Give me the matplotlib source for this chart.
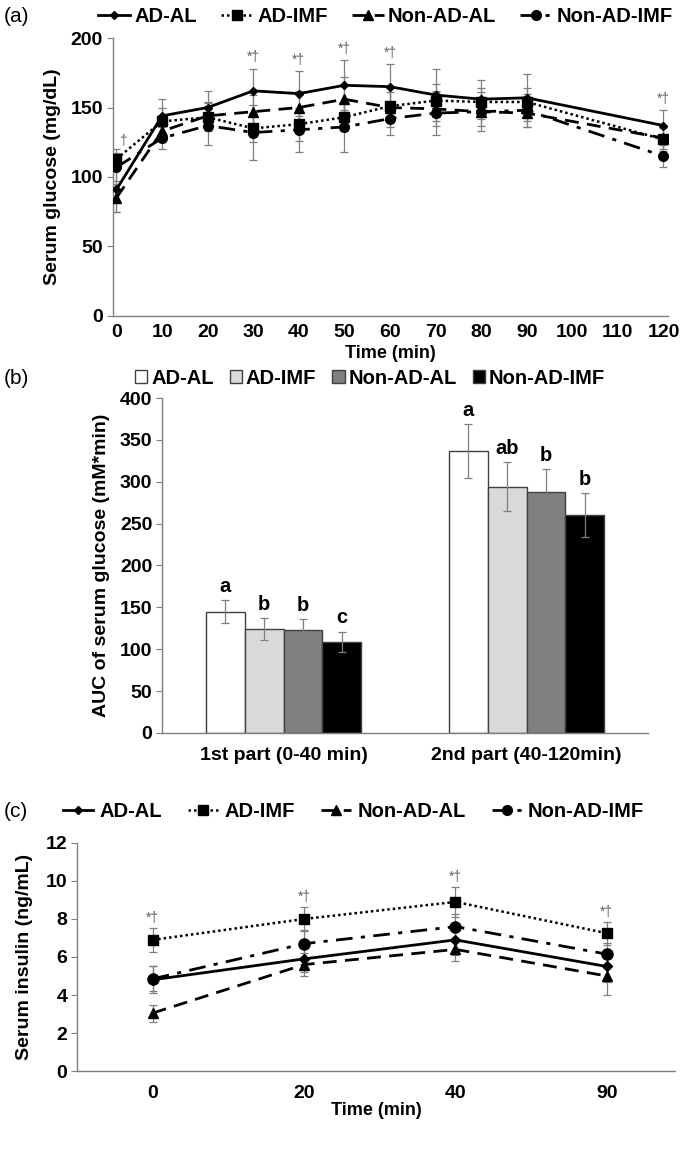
import matplotlib
matplotlib.use("Agg")
import matplotlib.pyplot as plt
from matplotlib.patches import Patch
from matplotlib.lines import Line2D
import matplotlib.font_manager as fm

names = {f.name for f in fm.fontManager.ttflist}
FAM = ['Liberation Sans Narrow'] if 'Liberation Sans Narrow' in names else ['Liberation Sans']
plt.rcParams['font.family'] = FAM + ['DejaVu Sans']
plt.rcParams['font.weight'] = 'bold'

groups = ["AD-AL", "AD-IMF", "Non-AD-AL", "Non-AD-IMF"]

# Panel (a) glucose
time_a = [0, 10, 20, 30, 40, 50, 60, 70, 80, 90, 120]
glu_mean = {
    "AD-AL":      [91, 144, 150, 162, 160, 166, 165, 159, 156, 157, 137],
    "AD-IMF":     [113, 140, 143, 135, 138, 143, 151, 155, 154, 154, 127],
    "Non-AD-AL":  [85, 133, 144, 147, 150, 156, 150, 149, 147, 146, 128],
    "Non-AD-IMF": [107, 128, 137, 132, 134, 136, 142, 146, 147, 148, 115],
}
glu_sd = {
    "AD-AL":      [16, 12, 12, 16, 16, 18, 16, 19, 14, 17, 11],
    "AD-IMF":     [7, 10, 10, 10, 12, 10, 10, 12, 10, 10, 8],
    "Non-AD-AL":  [10, 8, 10, 12, 12, 16, 14, 12, 10, 10, 8],
    "Non-AD-IMF": [10, 8, 14, 20, 16, 18, 12, 16, 14, 12, 8],
}
sig_a_times = [30, 40, 50, 60, 120]
sig_a_labels = ["*†", "*†", "*†", "*†", "*†"]
sig_a0_label = "†"

# Panel (b) AUC
auc_cats = ["1st part (0-40 min)", "2nd part (40-120min)"]
auc_mean = {
    "AD-AL": [145, 337], "AD-IMF": [124, 294],
    "Non-AD-AL": [123, 288], "Non-AD-IMF": [109, 260],
}
auc_sd = {
    "AD-AL": [14, 32], "AD-IMF": [13, 29],
    "Non-AD-AL": [13, 27], "Non-AD-IMF": [12, 26],
}
auc_letters = {
    "AD-AL": ["a", "a"], "AD-IMF": ["b", "ab"],
    "Non-AD-AL": ["b", "b"], "Non-AD-IMF": ["c", "b"],
}

# Panel (c) insulin
time_c = ["0", "20", "40", "90"]
ins_mean = {
    "AD-AL":      [4.8, 5.9, 6.9, 5.5],
    "AD-IMF":     [6.9, 8.0, 8.9, 7.25],
    "Non-AD-AL":  [3.05, 5.6, 6.4, 5.0],
    "Non-AD-IMF": [4.85, 6.7, 7.6, 6.15],
}
ins_sd = {
    "AD-AL":      [0.7, 0.7, 0.8, 0.8],
    "AD-IMF":     [0.65, 0.65, 0.8, 0.6],
    "Non-AD-AL":  [0.45, 0.6, 0.6, 1.0],
    "Non-AD-IMF": [0.65, 0.7, 0.65, 0.6],
}

styles = {
    "AD-AL": dict(ls='-', marker='D', ms=4.5, lw=2.0),
    "AD-IMF": dict(ls=(0, (1, 1.2)), marker='s', ms=6.5, lw=1.8),
    "Non-AD-AL": dict(ls=(0, (5, 3)), marker='^', ms=6.5, lw=2.0),
    "Non-AD-IMF": dict(ls=(0, (6, 3, 1.5, 3)), marker='o', ms=7, lw=2.0),
}
bar_colors = {"AD-AL": "white", "AD-IMF": "#d9d9d9", "Non-AD-AL": "#808080", "Non-AD-IMF": "black"}
GRAY = "#7f7f7f"
FS = 14
LFS = 14.5
YLFS = 14
SIGC = '#606060'

fig = plt.figure(figsize=(6.88, 11.53), dpi=100)


def style_axes(ax):
    for s in ['top', 'right']:
        ax.spines[s].set_visible(False)
    for s in ['left', 'bottom']:
        ax.spines[s].set_color(GRAY)
        ax.spines[s].set_linewidth(1.0)
    ax.tick_params(axis='y', length=4, color=GRAY, labelsize=FS, pad=3)
    ax.tick_params(axis='x', length=0, labelsize=FS, pad=6)
    for lab in ax.get_xticklabels() + ax.get_yticklabels():
        lab.set_fontweight('bold')


# ---- (a)
axa = fig.add_axes([0.164, 0.726, 0.807, 0.241])
for g in groups:
    st = styles[g]
    axa.errorbar(time_a, glu_mean[g], yerr=glu_sd[g], fmt='none', ecolor=GRAY, elinewidth=0.9, capsize=3, capthick=0.9, zorder=1)
    axa.plot(time_a, glu_mean[g], color='black', linestyle=st['ls'], lw=st['lw'], marker=st['marker'], ms=st['ms'], zorder=3)
axa.set_xlim(-0.8, 121)
axa.set_ylim(0, 200)
axa.set_xticks(list(range(0, 121, 10)))
axa.set_yticks([0, 50, 100, 150, 200])
style_axes(axa)
axa.set_xlabel("Time (min)", fontsize=13, fontweight='bold', labelpad=3)
axa.set_ylabel("Serum glucose (mg/dL)", fontsize=YLFS, fontweight='bold', labelpad=7)
for t, lab in zip(sig_a_times, sig_a_labels):
    i = time_a.index(t)
    top = max(glu_mean[g][i] + glu_sd[g][i] for g in groups)
    axa.text(t, top + 3, lab, ha='center', va='bottom', fontsize=10, color=SIGC, fontweight='normal')
top0 = max(glu_mean[g][0] + glu_sd[g][0] for g in groups)
axa.text(0.5, top0 + 1, sig_a0_label, ha='left', va='bottom', fontsize=10, color=SIGC, fontweight='normal')

handles = [Line2D([], [], color='black', linestyle=styles[g]['ls'], lw=styles[g]['lw'], marker=styles[g]['marker'], ms=styles[g]['ms']) for g in groups]
fig.legend(handles, groups, loc='center', bbox_to_anchor=(0.56, 0.986), ncol=4, frameon=False,
           handlelength=1.6, columnspacing=1.2, handletextpad=0.2, prop={'weight': 'bold', 'size': LFS})
fig.text(0.005, 0.986, "(a)", fontsize=15, fontweight='normal', va='center')

# ---- (b)
axb = fig.add_axes([0.2355, 0.3643, 0.7065, 0.2905])
w = 0.16
offs = [-1.5 * w, -0.5 * w, 0.5 * w, 1.5 * w]
for k, g in enumerate(groups):
    xs = [i + offs[k] for i in range(len(auc_cats))]
    axb.bar(xs, auc_mean[g], width=w, color=bar_colors[g], edgecolor='#404040', linewidth=1.0, zorder=2)
    axb.errorbar(xs, auc_mean[g], yerr=auc_sd[g], fmt='none', ecolor=GRAY, elinewidth=0.9, capsize=3, capthick=0.9, zorder=3)
    for x, m, s, l in zip(xs, auc_mean[g], auc_sd[g], auc_letters[g]):
        axb.text(x, m + s + 5, l, ha='center', va='bottom', fontsize=LFS, fontweight='bold')
axb.set_xlim(-0.5, 1.5)
axb.set_ylim(0, 400)
axb.set_xticks(range(len(auc_cats)))
axb.set_xticklabels(auc_cats)
axb.set_yticks(range(0, 401, 50))
style_axes(axb)
axb.tick_params(axis='x', pad=10)
axb.set_ylabel("AUC of serum glucose (mM*min)", fontsize=YLFS, fontweight='bold', labelpad=7)
phandles = [Patch(facecolor=bar_colors[g], edgecolor='#404040', linewidth=1.0) for g in groups]
fig.legend(phandles, groups, loc='center', bbox_to_anchor=(0.538, 0.672), ncol=4, frameon=False,
           handlelength=0.6, handleheight=0.6, columnspacing=0.8, handletextpad=0.2, prop={'weight': 'bold', 'size': LFS})
fig.text(0.005, 0.672, "(b)", fontsize=15, fontweight='normal', va='center')

# ---- (c)
axc = fig.add_axes([0.112, 0.0711, 0.869, 0.1978])
xc = list(range(len(time_c)))
for g in groups:
    st = styles[g]
    axc.errorbar(xc, ins_mean[g], yerr=ins_sd[g], fmt='none', ecolor=GRAY, elinewidth=0.9, capsize=3, capthick=0.9, zorder=1)
    axc.plot(xc, ins_mean[g], color='black', linestyle=st['ls'], lw=st['lw'], marker=st['marker'], ms=st['ms'] + 1, zorder=3)
for i in xc:
    top = ins_mean["AD-IMF"][i] + ins_sd["AD-IMF"][i]
    axc.text(i, top + 0.15, "*†", ha='center', va='bottom', fontsize=10, color=SIGC, fontweight='normal')
axc.set_xlim(-0.5, 3.45)
axc.set_ylim(0, 12)
axc.set_xticks(xc)
axc.set_xticklabels(time_c)
axc.set_yticks(range(0, 13, 2))
style_axes(axc)
axc.tick_params(axis='x', pad=10)
axc.set_xlabel("Time (min)", fontsize=13, fontweight='bold', labelpad=0)
axc.set_ylabel("Serum insulin (ng/mL)", fontsize=YLFS, fontweight='bold', labelpad=9)
handles = [Line2D([], [], color='black', linestyle=styles[g]['ls'], lw=styles[g]['lw'], marker=styles[g]['marker'], ms=styles[g]['ms']) for g in groups]
fig.legend(handles, groups, loc='center', bbox_to_anchor=(0.514, 0.296), ncol=4, frameon=False,
           handlelength=1.5, columnspacing=1.3, handletextpad=0.3, prop={'weight': 'bold', 'size': LFS})
fig.text(0.005, 0.296, "(c)", fontsize=15, fontweight='normal', va='center')

fig.savefig("out.png", dpi=100)
